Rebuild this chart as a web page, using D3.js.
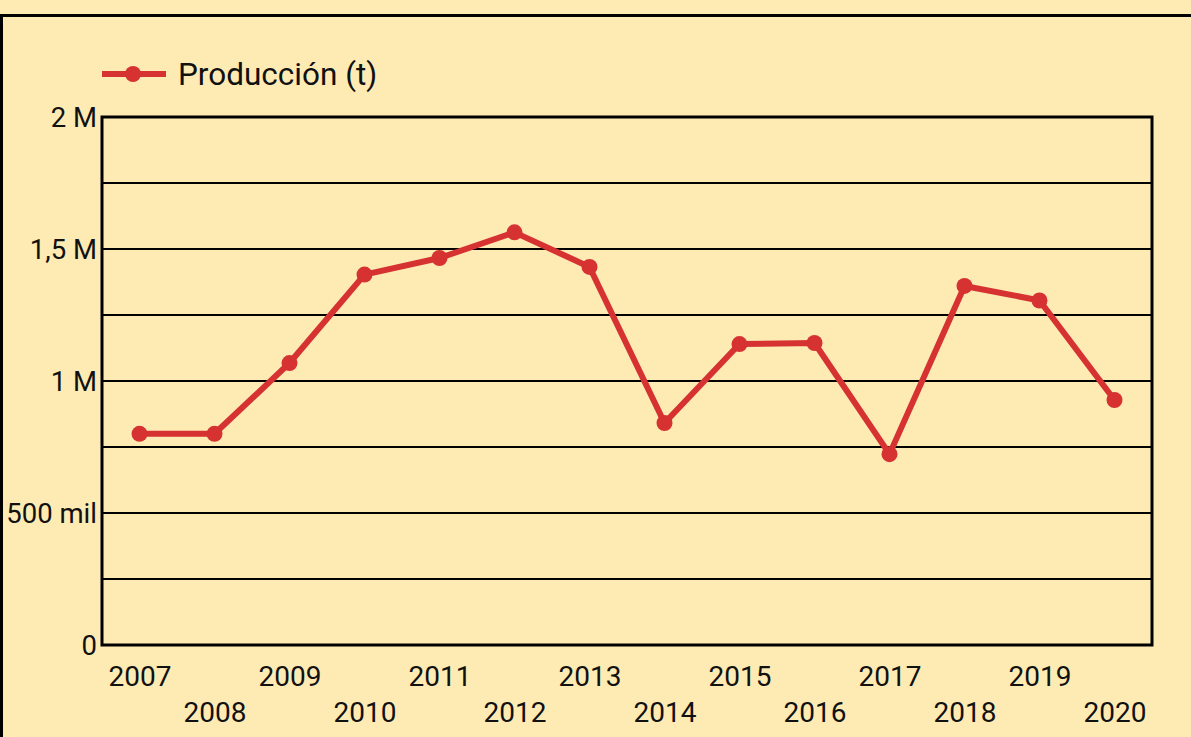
<!DOCTYPE html>
<html><head><meta charset="utf-8">
<script src="https://cdn.jsdelivr.net/npm/d3@7"></script>
<style>html,body{margin:0;padding:0;background:#feebb4;overflow:hidden}</style>
</head><body>
<svg id="c" width="1191" height="737"></svg>
<script>
const years = ["2007","2008","2009","2010","2011","2012","2013","2014","2015","2016","2017","2018","2019","2020"];
const production = [800000, 800000, 1068000, 1403000, 1466000, 1563000, 1432000, 841000, 1140000, 1144000, 723000, 1360000, 1305000, 928000];
const yTicks = [0, 500000, 1000000, 1500000, 2000000];
const yTickLabels = ["0", "500 mil", "1 M", "1,5 M", "2 M"];
const gridValues = [250000, 500000, 750000, 1000000, 1250000, 1500000, 1750000];
const seriesName = "Producción (t)";

const svg = d3.select("#c");
const W = 1191, H = 737;
const m = {left: 102, right: 1152, top: 117, bottom: 645};
const red = "#d63232";
const font = "Roboto, 'Noto Sans', sans-serif";

svg.append("rect").attr("width", W).attr("height", H).attr("fill", "#feebb4");
// outer frame
svg.append("path").attr("d", `M1.5,${H+5} L1.5,15.5 L${W+5},15.5`).attr("fill","none").attr("stroke","#000").attr("stroke-width",3);

const x = d3.scalePoint().domain(years).range([m.left, m.right]).padding(0.5);
const y = d3.scaleLinear().domain([0, 2000000]).range([m.bottom, m.top]);

// grid
svg.append("g").selectAll("line").data(gridValues).join("line")
  .attr("x1", m.left).attr("x2", m.right)
  .attr("y1", d => y(d)).attr("y2", d => y(d))
  .attr("stroke", "#000").attr("stroke-width", 2);

// plot frame
svg.append("rect").attr("x", m.left).attr("y", m.top)
  .attr("width", m.right - m.left).attr("height", m.bottom - m.top)
  .attr("fill", "none").attr("stroke", "#000").attr("stroke-width", 3);

// y axis
const yAxis = d3.axisLeft(y).tickValues(yTicks).tickSize(0).tickPadding(5)
  .tickFormat((d, i) => yTickLabels[i]);
const gy = svg.append("g").attr("transform", `translate(${m.left},0)`).call(yAxis);
gy.select(".domain").remove();
gy.selectAll("text").attr("font-family", font).attr("font-size", 27.5).attr("fill", "#111").attr("dy", "0.36em");

// x axis
const xAxis = d3.axisBottom(x).tickSize(0).tickPadding(0);
const gx = svg.append("g").attr("transform", `translate(0,${m.bottom})`).call(xAxis);
gx.select(".domain").remove();
gx.selectAll("text").attr("font-family", font).attr("font-size", 28).attr("fill", "#111")
  .attr("dy", null)
  .attr("y", (d, i) => i % 2 === 0 ? 41 : 77);

// line
const line = d3.line().x((d, i) => x(years[i])).y(d => y(d));
svg.append("path").datum(production).attr("d", line)
  .attr("fill", "none").attr("stroke", red).attr("stroke-width", 6).attr("stroke-linejoin", "round");
svg.append("g").selectAll("circle").data(production).join("circle")
  .attr("cx", (d, i) => x(years[i])).attr("cy", d => y(d)).attr("r", 8).attr("fill", red);

// legend
const lg = svg.append("g");
lg.append("line").attr("x1", 102).attr("x2", 166).attr("y1", 74).attr("y2", 74).attr("stroke", red).attr("stroke-width", 6);
lg.append("circle").attr("cx", 133).attr("cy", 74).attr("r", 8).attr("fill", red);
lg.append("text").attr("x", 178).attr("y", 85).text(seriesName)
  .attr("font-family", font).attr("font-size", 31.5).attr("fill", "#111");
</script>
</body></html>
